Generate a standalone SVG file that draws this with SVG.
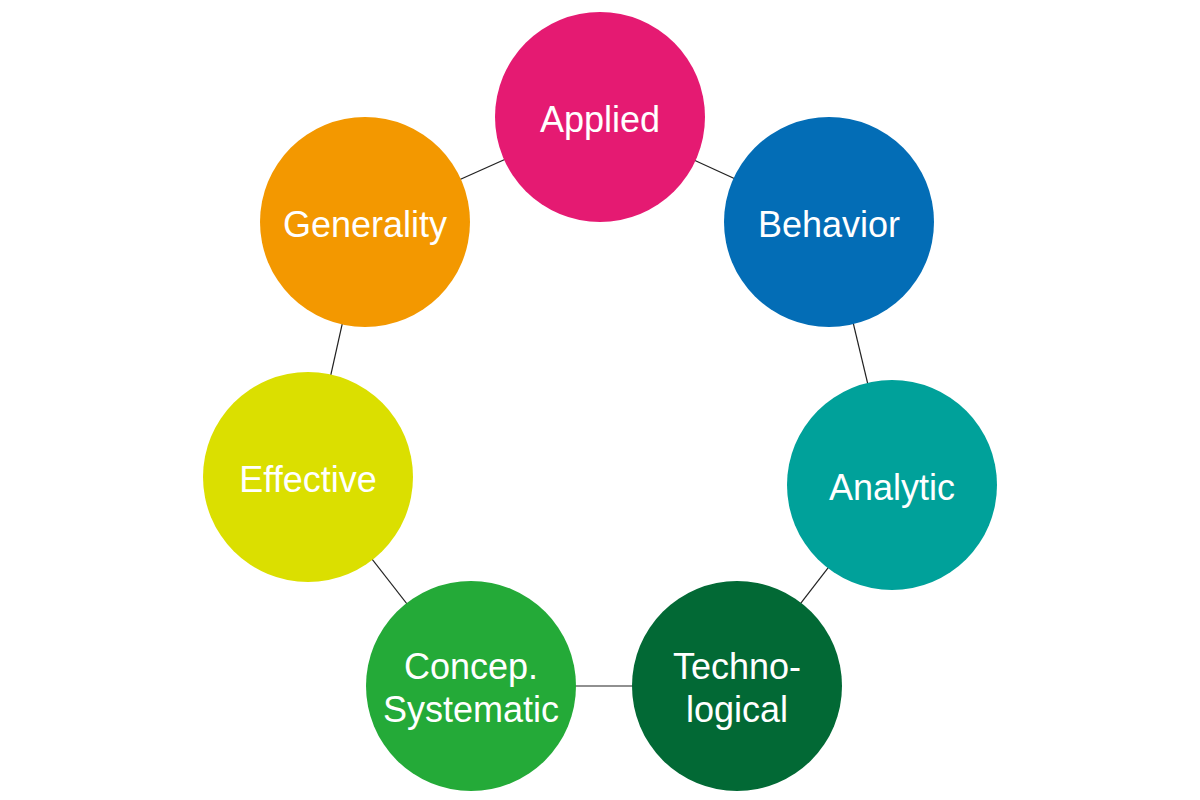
<svg xmlns="http://www.w3.org/2000/svg" width="1200" height="800" viewBox="0 0 1200 800">
<style>
.c{stroke:none}
.t{font-family:"Liberation Sans",Arial,Helvetica,sans-serif;font-size:36px;fill:#fff;text-anchor:middle}
.l{stroke:#222;stroke-width:1.2;fill:none}
</style>
<rect width="1200" height="800" fill="#fff"/>
<g id="connectors">
<line class="l" x1="600" y1="117" x2="829" y2="222"/>
<line class="l" x1="829" y1="222" x2="892" y2="485"/>
<line class="l" x1="892" y1="485" x2="737" y2="686"/>
<line class="l" x1="737" y1="686" x2="471" y2="686"/>
<line class="l" x1="471" y1="686" x2="308" y2="477"/>
<line class="l" x1="308" y1="477" x2="365" y2="222"/>
<line class="l" x1="365" y1="222" x2="600" y2="117"/>
</g>
<g id="applied"><circle class="c" cx="600" cy="117" r="105" fill="#E51A72"/><text class="t" x="600" y="132">Applied</text></g>
<g id="behavior"><circle class="c" cx="829" cy="222" r="105" fill="#036DB6"/><text class="t" x="829" y="237">Behavior</text></g>
<g id="analytic"><circle class="c" cx="892" cy="485" r="105" fill="#00A19A"/><text class="t" x="892" y="500">Analytic</text></g>
<g id="technological"><circle class="c" cx="737" cy="686" r="105" fill="#026935"/><text class="t" x="737" y="679">Techno-</text><text class="t" x="737" y="722">logical</text></g>
<g id="concep-systematic"><circle class="c" cx="471" cy="686" r="105" fill="#24AA38"/><text class="t" x="471" y="679">Concep.</text><text class="t" x="471" y="722">Systematic</text></g>
<g id="effective"><circle class="c" cx="308" cy="477" r="105" fill="#DBDF00"/><text class="t" x="308" y="492">Effective</text></g>
<g id="generality"><circle class="c" cx="365" cy="222" r="105" fill="#F39800"/><text class="t" x="365" y="237">Generality</text></g>
</svg>
